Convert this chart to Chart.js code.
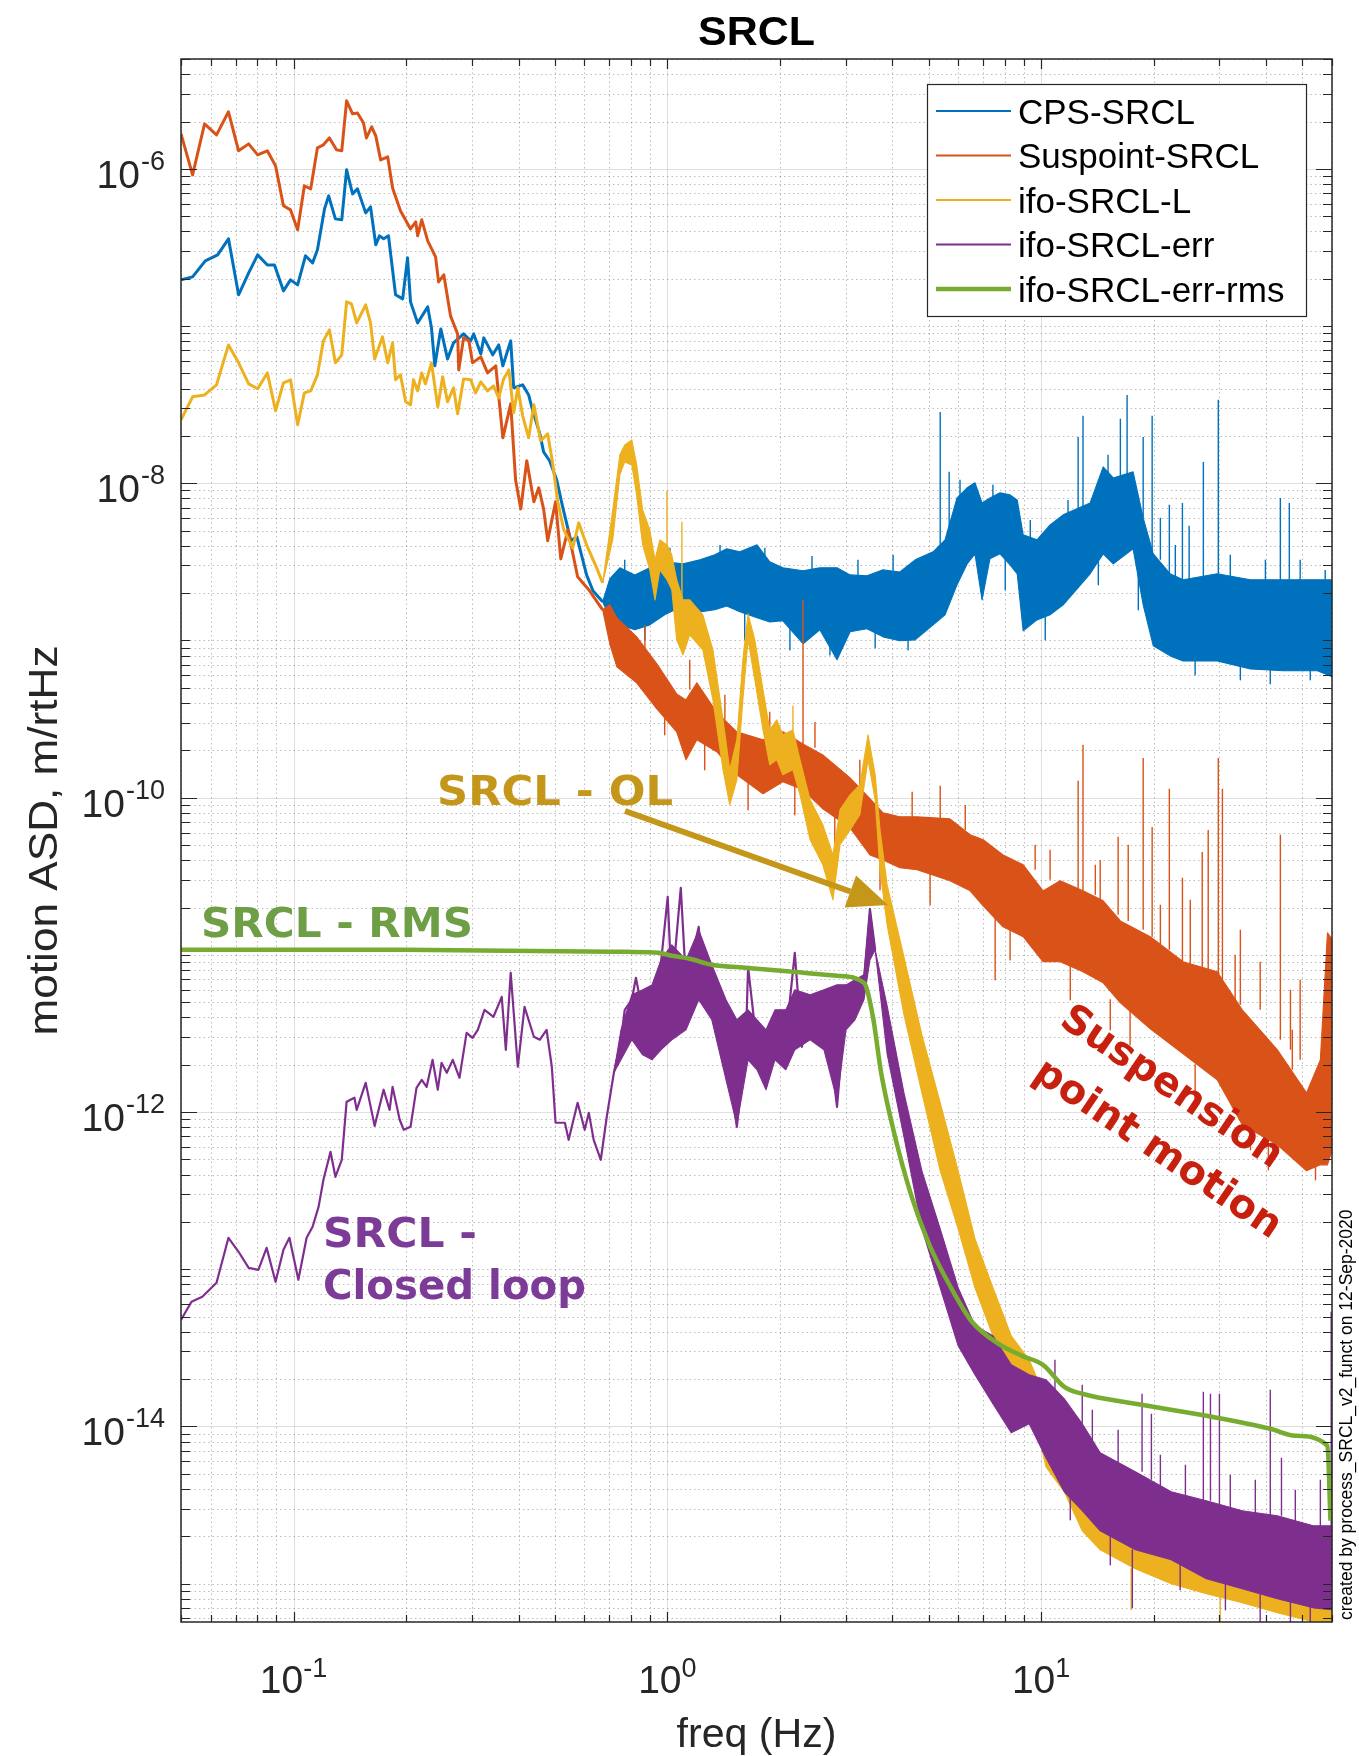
<!DOCTYPE html>
<html>
<head>
<meta charset="utf-8">
<script src="https://cdn.jsdelivr.net/npm/chart.js@4.4.1/dist/chart.umd.min.js"></script>
<style>
  html, body { margin: 0; padding: 0; background: #fff; }
  canvas { display: block; }
</style>
</head>
<body>
<canvas id="chart" width="1359" height="1756"></canvas>
<script>
// axis limits
const xMin = 0.05, xMax = 60;
const yMin = 5.7e-16, yMax = 5e-6;

// labelled ticks
const xMajorTicks = [0.1, 1, 10];
const xTickExponents = ['-1', '0', '1'];
const yMajorTicks = [1e-6, 1e-8, 1e-10, 1e-12, 1e-14];
const yTickExponents = ['-6', '-8', '-10', '-12', '-14'];

const seriesNames = ['CPS-SRCL', 'Suspoint-SRCL', 'ifo-SRCL-L', 'ifo-SRCL-err', 'ifo-SRCL-err-rms'];

// all values below as log10(freq in Hz) and log10(ASD in m/rtHz)
// "Line" = low frequency single trace, "Band" = top / bottom edge of the dense noise,
// "Spike" = narrow lines from one level to another

// CPS-SRCL
const cpsLineF = [-1.301,-1.270,-1.236,-1.203,-1.174,-1.147,-1.120,-1.096,-1.070,-1.051,
  -1.027,-1.008,-0.989,-0.968,-0.949,-0.936,-0.917,-0.906,-0.888,-0.871,
  -0.858,-0.842,-0.829,-0.807,-0.794,-0.780,-0.770,-0.759,-0.746,-0.727,
  -0.708,-0.695,-0.687,-0.668,-0.641,-0.631,-0.622,-0.606,-0.588,-0.572,
  -0.545,-0.526,-0.518,-0.499,-0.491,-0.467,-0.451,-0.440,-0.419,-0.411,
  -0.387,-0.371,-0.360,-0.341,-0.331,-0.315,-0.296,-0.280,-0.258,-0.242,
  -0.216,-0.199,-0.173];
const cpsLineA = [-6.706,-6.687,-6.585,-6.547,-6.445,-6.801,-6.662,-6.547,-6.611,-6.611,
  -6.776,-6.706,-6.738,-6.553,-6.598,-6.515,-6.254,-6.172,-6.318,-6.324,
  -6.006,-6.159,-6.127,-6.280,-6.242,-6.483,-6.426,-6.445,-6.426,-6.801,
  -6.827,-6.566,-6.846,-6.980,-6.878,-7.011,-7.253,-7.018,-7.209,-7.107,
  -7.050,-7.094,-7.050,-7.177,-7.075,-7.183,-7.120,-7.253,-7.094,-7.393,
  -7.374,-7.438,-7.539,-7.686,-7.800,-7.857,-7.978,-8.150,-8.366,-8.341,
  -8.583,-8.684,-8.754];
const cpsBandF = [-0.173,-0.154,-0.127,-0.087,-0.047,-0.007,0.042,0.087,0.127,0.159,
  0.194,0.240,0.274,0.309,0.363,0.408,0.454,0.489,0.534,0.577,
  0.622,0.663,0.711,0.743,0.775,0.802,0.823,0.842,0.863,0.890,
  0.917,0.936,0.952,0.989,1.024,1.059,1.131,1.166,1.193,1.246,
  1.273,1.300,1.345,1.380,1.471,1.560,1.648,1.739,1.779];
const cpsBandHi = [-8.754,-8.608,-8.538,-8.583,-8.538,-8.500,-8.513,-8.487,-8.455,-8.417,
  -8.436,-8.392,-8.500,-8.538,-8.557,-8.538,-8.538,-8.583,-8.589,-8.551,
  -8.564,-8.487,-8.436,-8.360,-8.093,-8.029,-7.997,-8.125,-8.093,-8.061,
  -8.074,-8.106,-8.328,-8.360,-8.265,-8.201,-8.125,-7.896,-7.966,-7.927,
  -8.220,-8.449,-8.576,-8.614,-8.576,-8.614,-8.614,-8.614,-8.614];
const cpsBandLo = [-8.754,-8.856,-8.901,-8.932,-8.901,-8.837,-8.780,-8.818,-8.805,-8.780,
  -8.818,-8.856,-8.882,-8.875,-9.021,-8.932,-9.123,-8.945,-8.926,-8.977,
  -9.002,-8.996,-8.901,-8.837,-8.646,-8.513,-8.449,-8.742,-8.481,-8.449,
  -8.519,-8.576,-8.939,-8.869,-8.837,-8.773,-8.576,-8.449,-8.513,-8.417,
  -8.773,-9.034,-9.098,-9.130,-9.130,-9.181,-9.193,-9.193,-9.231];
const cpsSpikeF = [-0.114,-0.060,0.007,0.074,0.141,0.207,0.261,0.328,0.387,0.435,
  0.510,0.556,0.604,0.644,0.730,0.754,0.783,0.871,0.904,0.971,
  1.011,1.072,1.099,1.112,1.153,1.179,1.212,1.230,1.260,1.273,
  1.297,1.319,1.343,1.359,1.378,1.396,1.412,1.434,1.474,1.506,
  1.533,1.600,1.613,1.640,1.664,1.693,1.720,1.760];
const cpsSpikeFrom = [-8.742,-8.742,-8.646,-8.678,-8.614,-8.678,-8.614,-8.678,-8.710,-8.742,
  -8.742,-8.742,-8.742,-8.742,-8.436,-8.360,-8.233,-8.233,-8.296,-8.487,
  -8.551,-8.360,-8.201,-8.169,-8.233,-8.106,-7.966,-7.966,-8.169,-8.220,
  -8.449,-8.487,-8.576,-8.742,-8.614,-8.614,-8.805,-8.614,-8.576,-8.805,
  -8.869,-8.805,-8.869,-8.614,-8.614,-8.805,-8.869,-8.805];
const cpsSpikeTo = [-8.487,-8.996,-8.411,-8.964,-8.392,-8.996,-8.411,-9.060,-8.462,-9.092,
  -8.487,-9.047,-8.455,-9.060,-7.546,-7.927,-7.978,-8.010,-8.678,-8.233,
  -8.996,-8.106,-7.705,-7.571,-8.646,-7.819,-7.590,-7.438,-8.805,-7.705,
  -7.571,-8.220,-8.137,-8.392,-8.125,-8.271,-9.219,-7.864,-7.469,-8.455,
  -9.250,-8.487,-9.276,-8.093,-8.125,-8.487,-9.250,-8.551];

// Suspoint-SRCL
const suspLineF = [-1.301,-1.270,-1.238,-1.206,-1.174,-1.147,-1.120,-1.096,-1.070,-1.048,
  -1.027,-1.008,-0.989,-0.971,-0.954,-0.936,-0.920,-0.904,-0.885,-0.871,
  -0.858,-0.842,-0.829,-0.813,-0.805,-0.791,-0.780,-0.767,-0.748,-0.735,
  -0.714,-0.687,-0.673,-0.668,-0.657,-0.641,-0.620,-0.612,-0.598,-0.580,
  -0.561,-0.558,-0.545,-0.531,-0.521,-0.499,-0.481,-0.459,-0.440,-0.419,
  -0.406,-0.392,-0.376,-0.357,-0.344,-0.331,-0.320,-0.299,-0.285,-0.266,
  -0.240,-0.208,-0.173];
const suspLineA = [-5.777,-6.038,-5.714,-5.784,-5.637,-5.885,-5.841,-5.911,-5.885,-5.981,
  -6.235,-6.261,-6.388,-6.108,-6.127,-5.866,-5.847,-5.803,-5.879,-5.885,
  -5.567,-5.650,-5.644,-5.707,-5.803,-5.733,-5.790,-5.943,-5.924,-6.121,
  -6.267,-6.382,-6.337,-6.426,-6.324,-6.458,-6.560,-6.719,-6.674,-6.935,
  -7.050,-7.279,-7.075,-7.094,-7.234,-7.196,-7.298,-7.253,-7.711,-7.495,
  -7.978,-8.163,-7.857,-8.118,-8.029,-8.163,-8.366,-8.118,-8.481,-8.296,
  -8.595,-8.684,-8.805];
const suspBandF = [-0.173,-0.154,-0.135,-0.082,-0.028,0.025,0.050,0.079,0.133,0.186,
  0.256,0.309,0.363,0.416,0.489,0.542,0.577,0.622,0.668,0.756,
  0.810,0.845,0.898,0.952,1.005,1.051,1.112,1.166,1.212,1.292,
  1.380,1.471,1.538,1.632,1.710,1.747,1.766,1.779];
const suspBandHi = [-8.805,-8.773,-8.856,-8.977,-9.149,-9.340,-9.378,-9.270,-9.460,-9.581,
  -9.632,-9.581,-9.658,-9.728,-9.874,-10.007,-10.097,-10.122,-10.122,-10.135,
  -10.236,-10.268,-10.364,-10.427,-10.593,-10.529,-10.593,-10.656,-10.784,-10.885,
  -11.044,-11.108,-11.350,-11.604,-11.878,-11.668,-10.860,-10.904];
const suspBandLo = [-8.805,-9.021,-9.168,-9.270,-9.435,-9.581,-9.759,-9.632,-9.709,-9.855,
  -9.976,-9.899,-9.950,-10.071,-10.192,-10.364,-10.396,-10.446,-10.459,-10.529,
  -10.593,-10.688,-10.822,-10.885,-11.044,-11.044,-11.108,-11.178,-11.305,-11.470,
  -11.630,-11.795,-12.081,-12.208,-12.374,-12.336,-12.336,-12.240];
const suspSpikeF = [-0.060,-0.007,0.060,0.100,0.154,0.216,0.274,0.341,0.363,0.395,
  0.448,0.515,0.569,0.655,0.703,0.730,0.797,0.877,0.917,0.984,
  1.024,1.078,1.099,1.112,1.145,1.158,1.185,1.206,1.233,1.238,
  1.273,1.297,1.319,1.343,1.378,1.399,1.412,1.431,1.447,1.474,
  1.485,1.519,1.533,1.560,1.586,1.608,1.640,1.667,1.672,1.693,1.734];
const suspSpikeFrom = [-9.060,-9.378,-9.314,-9.600,-9.505,-9.887,-9.619,-9.918,-9.658,-9.683,
  -10.109,-9.937,-10.396,-10.122,-10.478,-10.135,-10.205,-10.688,-10.841,-10.459,
  -10.523,-11.063,-10.593,-10.593,-10.618,-10.650,-11.286,-10.745,-10.784,-11.350,
  -10.841,-10.885,-10.936,-10.968,-11.044,-11.063,-11.699,-11.095,-11.095,-11.127,
  -11.159,-11.286,-11.318,-12.081,-11.350,-12.177,-11.540,-11.604,-11.731,-11.668,-12.336];
const suspSpikeTo = [-8.901,-9.600,-9.123,-9.823,-9.346,-10.077,-9.454,-10.109,-8.742,-9.518,
  -10.300,-9.759,-10.586,-9.963,-10.682,-9.925,-10.046,-11.159,-11.032,-10.300,
  -10.332,-11.286,-9.893,-9.664,-10.427,-10.396,-11.477,-10.249,-10.300,-11.572,
  -9.747,-10.186,-10.682,-9.944,-10.510,-10.650,-11.922,-10.345,-10.205,-9.747,
  -9.944,-11.000,-10.841,-12.240,-11.044,-12.367,-10.236,-11.222,-11.477,-11.159,-12.431];

// ifo-SRCL-L
const ifoLineF = [-1.301,-1.270,-1.238,-1.206,-1.174,-1.147,-1.120,-1.096,-1.070,-1.048,
  -1.027,-1.008,-0.989,-0.971,-0.954,-0.936,-0.920,-0.904,-0.888,-0.871,
  -0.858,-0.845,-0.831,-0.807,-0.794,-0.783,-0.762,-0.748,-0.735,-0.727,
  -0.714,-0.700,-0.687,-0.679,-0.668,-0.657,-0.647,-0.631,-0.614,-0.601,
  -0.588,-0.572,-0.561,-0.545,-0.526,-0.513,-0.499,-0.481,-0.465,-0.451,
  -0.438,-0.424,-0.411,-0.400,-0.387,-0.371,-0.357,-0.339,-0.320,-0.307,
  -0.293,-0.277,-0.253,-0.237,-0.216,-0.189,-0.173];
const ifoLineA = [-7.597,-7.450,-7.438,-7.374,-7.120,-7.234,-7.368,-7.399,-7.298,-7.539,
  -7.361,-7.342,-7.628,-7.425,-7.412,-7.310,-7.094,-7.024,-7.234,-7.183,
  -6.846,-6.859,-6.980,-6.865,-6.980,-7.209,-7.069,-7.234,-7.107,-7.342,
  -7.310,-7.482,-7.501,-7.342,-7.412,-7.298,-7.368,-7.234,-7.514,-7.323,
  -7.482,-7.393,-7.558,-7.336,-7.342,-7.425,-7.355,-7.412,-7.380,-7.457,
  -7.336,-7.279,-7.552,-7.393,-7.571,-7.711,-7.501,-7.730,-7.686,-7.870,
  -8.118,-8.296,-8.411,-8.252,-8.392,-8.538,-8.634];
const ifoBandF = [-0.173,-0.146,-0.127,-0.114,-0.095,-0.082,-0.066,-0.047,-0.033,-0.020,
  -0.001,0.012,0.025,0.042,0.060,0.095,0.122,0.149,0.167,0.186,
  0.202,0.216,0.234,0.256,0.274,0.293,0.309,0.336,0.355,0.382,
  0.416,0.443,0.462,0.489,0.515,0.537,0.556,0.569,0.588,0.633,
  0.681,0.730,0.778,0.823,0.871,0.920,0.968,1.013,1.062,1.110,
  1.158,1.252,1.348,1.442,1.538,1.632,1.728,1.779];
const ifoBandHi = [-8.634,-8.169,-7.819,-7.756,-7.724,-7.883,-8.169,-8.296,-8.487,-8.360,
  -8.392,-8.455,-8.614,-8.742,-8.742,-8.837,-9.060,-9.505,-9.823,-9.632,
  -9.123,-8.831,-8.996,-9.314,-9.569,-9.505,-9.600,-9.569,-9.759,-10.014,
  -10.173,-10.364,-10.077,-9.982,-9.918,-9.600,-9.855,-10.205,-10.555,-11.013,
  -11.509,-11.941,-12.374,-12.806,-13.118,-13.423,-13.576,-13.830,-14.021,-14.212,
  -14.339,-14.498,-14.594,-14.657,-14.721,-14.785,-14.848,-14.848];
const ifoBandLo = [-8.634,-8.360,-7.947,-7.864,-7.883,-8.074,-8.392,-8.551,-8.742,-8.551,
  -8.614,-8.678,-8.996,-9.092,-8.964,-9.060,-9.378,-9.823,-10.046,-9.887,
  -9.378,-8.996,-9.250,-9.569,-9.791,-9.759,-9.855,-9.823,-9.982,-10.268,
  -10.427,-10.650,-10.300,-10.205,-10.109,-9.759,-10.014,-10.459,-10.809,-11.381,
  -11.878,-12.374,-12.743,-13.118,-13.423,-13.671,-13.792,-14.257,-14.416,-14.664,
  -14.785,-14.905,-15.001,-15.064,-15.122,-15.185,-15.243,-15.243];
const ifoSpikeF = [-0.001,0.039,0.336,1.241,1.479];
const ifoSpikeFrom = [-8.392,-8.742,-9.569,-14.905,-15.064];
const ifoSpikeTo = [-8.048,-8.245,-9.416,-15.166,-15.243];

// ifo-SRCL-err
const errLineF = [-1.301,-1.273,-1.244,-1.206,-1.174,-1.147,-1.120,-1.094,-1.072,-1.048,
  -1.027,-1.011,-0.987,-0.965,-0.949,-0.933,-0.920,-0.901,-0.888,-0.871,
  -0.858,-0.837,-0.831,-0.807,-0.783,-0.759,-0.743,-0.735,-0.716,-0.705,
  -0.687,-0.671,-0.657,-0.644,-0.628,-0.614,-0.604,-0.590,-0.574,-0.556,
  -0.537,-0.521,-0.507,-0.489,-0.465,-0.443,-0.432,-0.419,-0.400,-0.382,
  -0.357,-0.341,-0.323,-0.309,-0.299,-0.274,-0.264,-0.240,-0.221,-0.210,
  -0.197,-0.178,-0.162,-0.143,-0.124,-0.114,-0.095,-0.084,-0.066,-0.041,
  -0.031,-0.017,0.001,0.012,0.036,0.050,0.084,0.095,0.119,0.133,
  0.157,0.186,0.210,0.216,0.240,0.264,0.288,0.317,0.341,0.360,
  0.382,0.419,0.438,0.454,0.478,0.502,0.526,0.542,0.556];
const errLineA = [-13.322,-13.207,-13.175,-13.086,-12.800,-12.889,-12.991,-13.004,-12.864,-13.080,
  -12.876,-12.800,-13.067,-12.800,-12.730,-12.603,-12.431,-12.253,-12.412,-12.304,
  -11.935,-11.909,-11.986,-11.814,-12.088,-11.858,-11.986,-11.840,-12.049,-12.113,
  -12.094,-11.846,-11.795,-11.840,-11.668,-11.858,-11.687,-11.750,-11.668,-11.782,
  -11.496,-11.528,-11.477,-11.350,-11.394,-11.267,-11.604,-11.114,-11.712,-11.331,
  -11.521,-11.540,-11.477,-11.712,-12.068,-12.068,-12.177,-11.941,-12.113,-12.005,
  -12.177,-12.304,-12.030,-11.750,-11.540,-11.350,-11.286,-11.146,-11.369,-11.623,
  -11.331,-11.051,-10.631,-11.222,-10.574,-11.178,-10.822,-11.159,-11.095,-11.394,
  -11.604,-12.094,-11.560,-11.076,-11.585,-11.840,-11.458,-11.540,-10.987,-11.585,
  -11.331,-11.350,-11.649,-11.967,-11.286,-11.286,-11.159,-10.707,-10.968];
const errBandF = [-0.143,-0.124,-0.095,-0.066,-0.041,-0.017,0.012,0.050,0.084,0.119,
  0.157,0.186,0.216,0.240,0.264,0.288,0.317,0.341,0.382,0.419,
  0.454,0.478,0.502,0.526,0.542,0.556,0.588,0.633,0.681,0.730,
  0.778,0.823,0.871,0.920,0.968,1.013,1.062,1.110,1.158,1.252,
  1.348,1.442,1.538,1.632,1.728,1.779];
const errBandHi = [-11.750,-11.477,-11.254,-11.222,-11.191,-11.032,-10.936,-11.032,-10.841,-11.063,
  -11.286,-11.413,-11.350,-11.413,-11.477,-11.350,-11.350,-11.222,-11.254,-11.222,
  -11.191,-11.191,-11.159,-11.127,-10.707,-10.968,-11.324,-11.878,-12.374,-12.743,
  -13.118,-13.360,-13.423,-13.608,-13.671,-13.703,-13.824,-13.983,-14.168,-14.288,
  -14.416,-14.473,-14.536,-14.568,-14.632,-14.632];
const errBandLo = [-11.750,-11.668,-11.540,-11.636,-11.668,-11.604,-11.540,-11.477,-11.286,-11.413,
  -11.795,-12.081,-11.668,-11.731,-11.858,-11.668,-11.731,-11.604,-11.540,-11.604,
  -11.922,-11.477,-11.413,-11.286,-11.032,-10.968,-11.630,-12.157,-12.743,-13.118,
  -13.487,-13.671,-13.856,-14.040,-13.983,-14.199,-14.416,-14.536,-14.664,-14.785,
  -14.848,-14.969,-15.033,-15.096,-15.154,-15.166];
const errSpikeF = [1.037,1.078,1.110,1.137,1.185,1.206,1.244,1.270,1.295,1.319,
  1.372,1.386,1.434,1.453,1.477,1.493,1.506,1.573,1.586,1.613,
  1.643,1.667,1.680,1.720,1.747,1.776];
const errSpikeFrom = [-13.799,-14.371,-13.983,-14.117,-14.657,-14.276,-14.785,-14.288,-14.339,-14.435,
  -14.848,-14.498,-14.473,-14.473,-14.498,-14.975,-14.562,-14.594,-15.071,-14.568,
  -14.568,-15.096,-14.645,-15.103,-14.657,-14.632];
const errSpikeTo = [-13.576,-14.594,-13.735,-13.894,-14.880,-14.021,-15.154,-13.792,-13.920,-14.180,
  -15.039,-14.244,-13.780,-13.792,-13.792,-15.166,-14.307,-14.339,-15.243,-13.767,
  -14.199,-15.243,-14.403,-15.243,-14.339,-13.271];

// ifo-SRCL-err-rms
const rmsF = [-1.301,-0.705,-0.108,-0.023,0.012,0.060,0.119,0.216,0.336,0.454,
  0.526,0.550,0.572,0.606,0.652,0.700,0.759,0.815,0.882,0.949,
  1.005,1.062,1.110,1.252,1.442,1.613,1.680,1.766,1.774];
const rmsA = [-10.968,-10.968,-10.981,-10.987,-11.006,-11.025,-11.063,-11.083,-11.108,-11.133,
  -11.178,-11.394,-11.750,-12.126,-12.526,-12.838,-13.118,-13.334,-13.468,-13.551,
  -13.608,-13.748,-13.792,-13.856,-13.932,-14.015,-14.059,-14.123,-14.600];

const FONT = '"Liberation Sans", Arial, Helvetica, sans-serif';
const BOLD = '"DejaVu Sans", Verdana, sans-serif';
const AXIS = '#262626';

function toPoints(F, A) {
  return F.map((f, i) => ({ x: Math.pow(10, f), y: Math.pow(10, A[i]) }));
}

function toSpikes(F, from, to) {
  const out = [];
  F.forEach((f, i) => {
    const x = Math.pow(10, f);
    out.push({ x: x, y: Math.pow(10, from[i]) }, { x: x, y: Math.pow(10, to[i]) }, { x: x, y: null });
  });
  return out;
}

const datasets = [];
function addLine(data, color, width, order, extra) {
  datasets.push(Object.assign({
    data: data, borderColor: color, backgroundColor: color, borderWidth: width,
    pointRadius: 0, tension: 0, fill: false, order: order, spanGaps: false
  }, extra || {}));
  return datasets.length - 1;
}

function addSeries(s) {
  if (s.bandF) {
    const hi = addLine(toPoints(s.bandF, s.bandHi), s.color, 1.1, s.order);
    addLine(toPoints(s.bandF, s.bandLo), s.color, 1.1, s.order, { fill: hi });
  }
  if (s.spikeF) addLine(toSpikes(s.spikeF, s.spikeFrom, s.spikeTo), s.color, 1.4, s.order);
  if (s.lineF) addLine(toPoints(s.lineF, s.lineA), s.color, s.width, s.order, s.extra);
}

const series = [
  { color: '#0072BD', order: 5, width: 3, lineF: cpsLineF, lineA: cpsLineA,
    bandF: cpsBandF, bandHi: cpsBandHi, bandLo: cpsBandLo, spikeF: cpsSpikeF, spikeFrom: cpsSpikeFrom, spikeTo: cpsSpikeTo },
  { color: '#D95319', order: 4, width: 3, lineF: suspLineF, lineA: suspLineA,
    bandF: suspBandF, bandHi: suspBandHi, bandLo: suspBandLo, spikeF: suspSpikeF, spikeFrom: suspSpikeFrom, spikeTo: suspSpikeTo },
  { color: '#EDB120', order: 3, width: 3, lineF: ifoLineF, lineA: ifoLineA,
    bandF: ifoBandF, bandHi: ifoBandHi, bandLo: ifoBandLo, spikeF: ifoSpikeF, spikeFrom: ifoSpikeFrom, spikeTo: ifoSpikeTo },
  { color: '#7E2F8E', order: 2, width: 2.2, lineF: errLineF, lineA: errLineA,
    bandF: errBandF, bandHi: errBandHi, bandLo: errBandLo, spikeF: errSpikeF, spikeFrom: errSpikeFrom, spikeTo: errSpikeTo },
  { color: '#77AC30', order: 1, width: 4.5, lineF: rmsF, lineA: rmsA, extra: { cubicInterpolationMode: 'monotone' } }
];
series.forEach(addSeries);

function decadeValues(min, max) {
  const out = [];
  for (let e = Math.floor(Math.log10(min)); e <= Math.ceil(Math.log10(max)); e++) {
    for (let k = 1; k < 10; k++) {
      const v = k * Math.pow(10, e);
      if (v >= min * 0.999 && v <= max * 1.001) out.push(v);
    }
  }
  return out;
}
function isMajor(v, list) {
  return list.some(m => Math.abs(Math.log10(v) - Math.log10(m)) < 1e-6);
}

function fitText(ctx, text, x, y, width, align) {
  const w = ctx.measureText(text).width;
  ctx.save();
  ctx.translate(x, y);
  ctx.scale(width / w, 1);
  ctx.textAlign = align;
  ctx.fillText(text, 0, 0);
  ctx.restore();
}

const gridPlugin = {
  id: 'grid',
  beforeDatasetsDraw(chart) {
    const ctx = chart.ctx, a = chart.chartArea;
    const xs = chart.scales.x, ys = chart.scales.y;
    ctx.save();
    ctx.lineWidth = 1;
    decadeValues(xMin, xMax).forEach(v => {
      const px = Math.round(xs.getPixelForValue(v)) + 0.5;
      const major = isMajor(v, xMajorTicks);
      ctx.setLineDash(major ? [] : [1.5, 3]);
      ctx.strokeStyle = major ? 'rgba(38,38,38,0.15)' : 'rgba(38,38,38,0.3)';
      ctx.beginPath(); ctx.moveTo(px, a.top); ctx.lineTo(px, a.bottom); ctx.stroke();
    });
    decadeValues(yMin, yMax).forEach(v => {
      const py = Math.round(ys.getPixelForValue(v)) + 0.5;
      const major = isMajor(v, yMajorTicks);
      ctx.setLineDash(major ? [] : [1.5, 3]);
      ctx.strokeStyle = major ? 'rgba(38,38,38,0.15)' : 'rgba(38,38,38,0.3)';
      ctx.beginPath(); ctx.moveTo(a.left, py); ctx.lineTo(a.right, py); ctx.stroke();
    });
    ctx.restore();
  }
};

function drawArrow(ctx, x1, y1, x2, y2, color) {
  const ang = Math.atan2(y2 - y1, x2 - x1);
  const headL = 40, headW = 17;
  const bx = x2 - headL * Math.cos(ang), by = y2 - headL * Math.sin(ang);
  ctx.strokeStyle = color; ctx.lineWidth = 6;
  ctx.beginPath(); ctx.moveTo(x1, y1); ctx.lineTo(bx, by); ctx.stroke();
  ctx.fillStyle = color;
  ctx.beginPath();
  ctx.moveTo(x2, y2);
  ctx.lineTo(bx + headW * Math.sin(ang), by - headW * Math.cos(ang));
  ctx.lineTo(bx - headW * Math.sin(ang), by + headW * Math.cos(ang));
  ctx.closePath(); ctx.fill();
}

const framePlugin = {
  id: 'frame',
  afterDatasetsDraw(chart) {
    const ctx = chart.ctx, a = chart.chartArea;
    const xs = chart.scales.x, ys = chart.scales.y;
    ctx.save();

    // box and inward ticks
    ctx.strokeStyle = AXIS; ctx.lineWidth = 1.5; ctx.setLineDash([]);
    ctx.strokeRect(a.left, a.top, a.right - a.left, a.bottom - a.top);
    ctx.lineWidth = 1.2;
    decadeValues(xMin, xMax).forEach(v => {
      const px = Math.round(xs.getPixelForValue(v)) + 0.5;
      const len = isMajor(v, xMajorTicks) ? 10 : 7;
      ctx.beginPath();
      ctx.moveTo(px, a.bottom); ctx.lineTo(px, a.bottom - len);
      ctx.moveTo(px, a.top); ctx.lineTo(px, a.top + len);
      ctx.stroke();
    });
    decadeValues(yMin, yMax).forEach(v => {
      const py = Math.round(ys.getPixelForValue(v)) + 0.5;
      const len = isMajor(v, yMajorTicks) ? 16 : 9;
      ctx.beginPath();
      ctx.moveTo(a.left, py); ctx.lineTo(a.left + len, py);
      ctx.moveTo(a.right, py); ctx.lineTo(a.right - len, py);
      ctx.stroke();
    });

    // tick labels 10^n
    ctx.fillStyle = AXIS;
    yMajorTicks.forEach((v, i) => {
      const py = ys.getPixelForValue(v);
      ctx.font = '27px ' + FONT; ctx.textAlign = 'right';
      const ew = ctx.measureText(yTickExponents[i]).width;
      ctx.fillText(yTickExponents[i], a.left - 16, py + 1);
      ctx.font = '39px ' + FONT;
      ctx.fillText('10', a.left - 16 - ew - 1, py + 19);
    });
    xMajorTicks.forEach((v, i) => {
      const px = xs.getPixelForValue(v);
      ctx.font = '39px ' + FONT;
      const bw = ctx.measureText('10').width;
      ctx.font = '27px ' + FONT;
      const ew = ctx.measureText(xTickExponents[i]).width;
      const x0 = px - (bw + ew) / 2;
      ctx.textAlign = 'left';
      ctx.fillText(xTickExponents[i], x0 + bw, a.bottom + 55);
      ctx.font = '39px ' + FONT;
      ctx.fillText('10', x0, a.bottom + 71);
    });

    // axis titles and title
    const cx = (a.left + a.right) / 2;
    ctx.font = '40px ' + FONT;
    fitText(ctx, 'freq (Hz)', cx, 1747, 160, 'center');
    ctx.save();
    ctx.translate(57, (a.top + a.bottom) / 2);
    ctx.rotate(-Math.PI / 2);
    fitText(ctx, 'motion ASD, m/rtHz', 0, 0, 390, 'center');
    ctx.restore();
    ctx.fillStyle = '#000';
    ctx.font = 'bold 40px ' + FONT;
    fitText(ctx, 'SRCL', cx, 45, 117, 'center');

    // side note
    ctx.save();
    ctx.fillStyle = '#000';
    ctx.font = '17.5px ' + FONT;
    ctx.translate(1352, a.bottom - 2);
    ctx.rotate(-Math.PI / 2);
    ctx.textAlign = 'left';
    ctx.fillText('created by process_SRCL_v2_funct on 12-Sep-2020', 0, 0);
    ctx.restore();

    // annotations
    ctx.font = 'bold 41px ' + BOLD;
    ctx.fillStyle = '#C4961A';
    fitText(ctx, 'SRCL - OL', 437, 805, 236, 'left');
    drawArrow(ctx, 625, 811, 888, 905, '#C4961A');
    ctx.fillStyle = '#6E9F46';
    fitText(ctx, 'SRCL - RMS', 201, 937, 272, 'left');
    ctx.fillStyle = '#7B3B96';
    fitText(ctx, 'SRCL -', 323, 1247, 154, 'left');
    fitText(ctx, 'Closed loop', 323, 1299, 263, 'left');
    ctx.save();
    ctx.fillStyle = '#C8200E';
    ctx.font = 'bold 40px ' + BOLD;
    ctx.textAlign = 'center'; ctx.textBaseline = 'middle';
    ctx.translate(1171, 1088); ctx.rotate(34 * Math.PI / 180);
    ctx.fillText('Suspension', 0, 0);
    ctx.restore();
    ctx.save();
    ctx.fillStyle = '#C8200E';
    ctx.font = 'bold 40px ' + BOLD;
    ctx.textAlign = 'center'; ctx.textBaseline = 'middle';
    ctx.translate(1157, 1150); ctx.rotate(34 * Math.PI / 180);
    ctx.fillText('point motion', 0, 0);
    ctx.restore();

    // legend
    const lx = 927, ly = 84, lw = 379, lh = 232;
    ctx.fillStyle = '#fff';
    ctx.fillRect(lx, ly, lw, lh);
    ctx.strokeStyle = AXIS; ctx.lineWidth = 1.2;
    ctx.strokeRect(lx + 0.5, ly + 0.5, lw, lh);
    ctx.font = '35px ' + FONT; ctx.textAlign = 'left';
    seriesNames.forEach((name, i) => {
      const y = ly + 27 + i * 44.5;
      ctx.strokeStyle = series[i].color;
      ctx.lineWidth = i === 4 ? 4.5 : 2.2;
      ctx.beginPath(); ctx.moveTo(lx + 9, y); ctx.lineTo(lx + 84, y); ctx.stroke();
      ctx.fillStyle = '#000';
      ctx.fillText(name, lx + 91, y + 12.5);
    });
    ctx.restore();
  }
};

new Chart(document.getElementById('chart'), {
  type: 'line',
  data: { datasets: datasets },
  options: {
    responsive: false,
    animation: false,
    devicePixelRatio: 1,
    events: [],
    layout: { padding: { left: 181, top: 59, right: 27, bottom: 134 } },
    scales: {
      x: { type: 'logarithmic', min: xMin, max: xMax, display: false },
      y: { type: 'logarithmic', min: yMin, max: yMax, display: false }
    },
    elements: { point: { radius: 0 }, line: { borderJoinStyle: 'round' } },
    plugins: {
      legend: { display: false },
      tooltip: { enabled: false },
      title: { display: false }
    }
  },
  plugins: [gridPlugin, framePlugin]
});
</script>
</body>
</html>
